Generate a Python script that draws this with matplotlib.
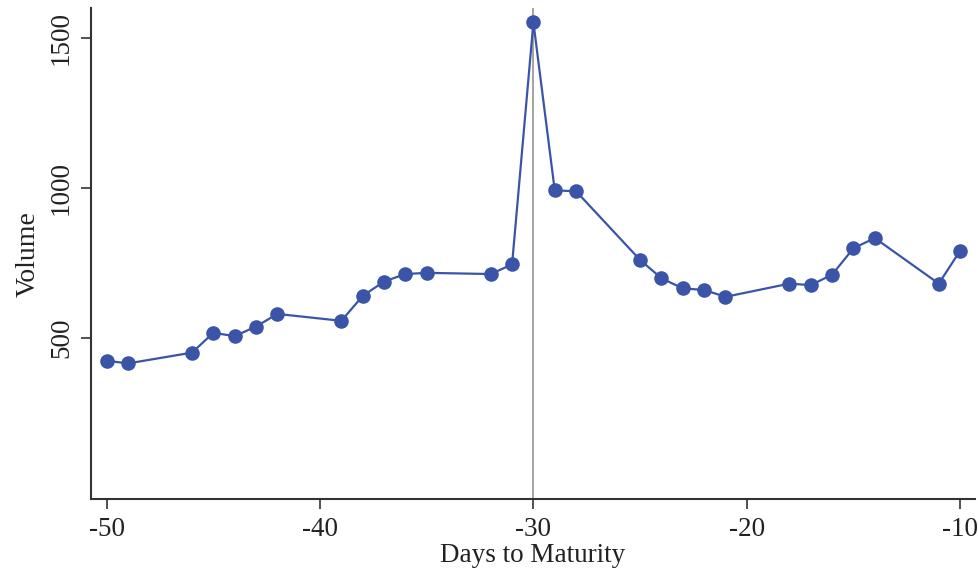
import matplotlib.pyplot as plt

# days to maturity and trading volume
days = [-50, -49, -46, -45, -44, -43, -42, -39, -38, -37, -36, -35, -32, -31,
        -30, -29, -28, -25, -24, -23, -22, -21, -18, -17, -16, -15, -14, -11, -10]
volume = [423, 414, 450, 516, 505, 537, 579, 556, 639, 687, 712, 716, 712, 744,
          1551, 991, 988, 759, 698, 664, 659, 636, 680, 675, 710, 798, 832, 680, 790]
x_ticks = [-50, -40, -30, -20, -10]
y_ticks = [500, 1000, 1500]

plt.rcParams['font.family'] = ['Liberation Serif', 'DejaVu Serif']

fig = plt.figure(figsize=(9.79, 5.76), dpi=100)
ax = fig.add_axes([0.0926, 0.1337, 0.9034, 0.8519])

ax.axvline(-30, color='#8a8a8a', lw=1.1, zorder=1)
ax.plot(days, volume, color='#3a55a8', lw=1.6, marker='o', ms=10.5,
        markeredgewidth=0, zorder=3)

ax.set_xlim(-50.75, -9.3)
ax.set_ylim(-38, 1598)
ax.set_xticks(x_ticks)
ax.set_xticklabels([str(t) for t in x_ticks])
ax.set_yticks(y_ticks)
ax.set_yticklabels([str(t) for t in y_ticks], rotation=90, va='center')

for s in ['top', 'right']:
    ax.spines[s].set_visible(False)
for s in ['left', 'bottom']:
    ax.spines[s].set_linewidth(1.5)
    ax.spines[s].set_color('#333333')

ax.tick_params(axis='both', length=7, width=1.2, color='#333333',
               labelsize=19.5, labelcolor='#222222')
ax.tick_params(axis='x', pad=6)
ax.tick_params(axis='y', pad=5)

ax.set_xlabel('Days to Maturity', fontsize=19.5, color='#222222', labelpad=1)
ax.set_ylabel('Volume', fontsize=20, color='#222222', labelpad=6)

plt.savefig('out.png', dpi=100)
